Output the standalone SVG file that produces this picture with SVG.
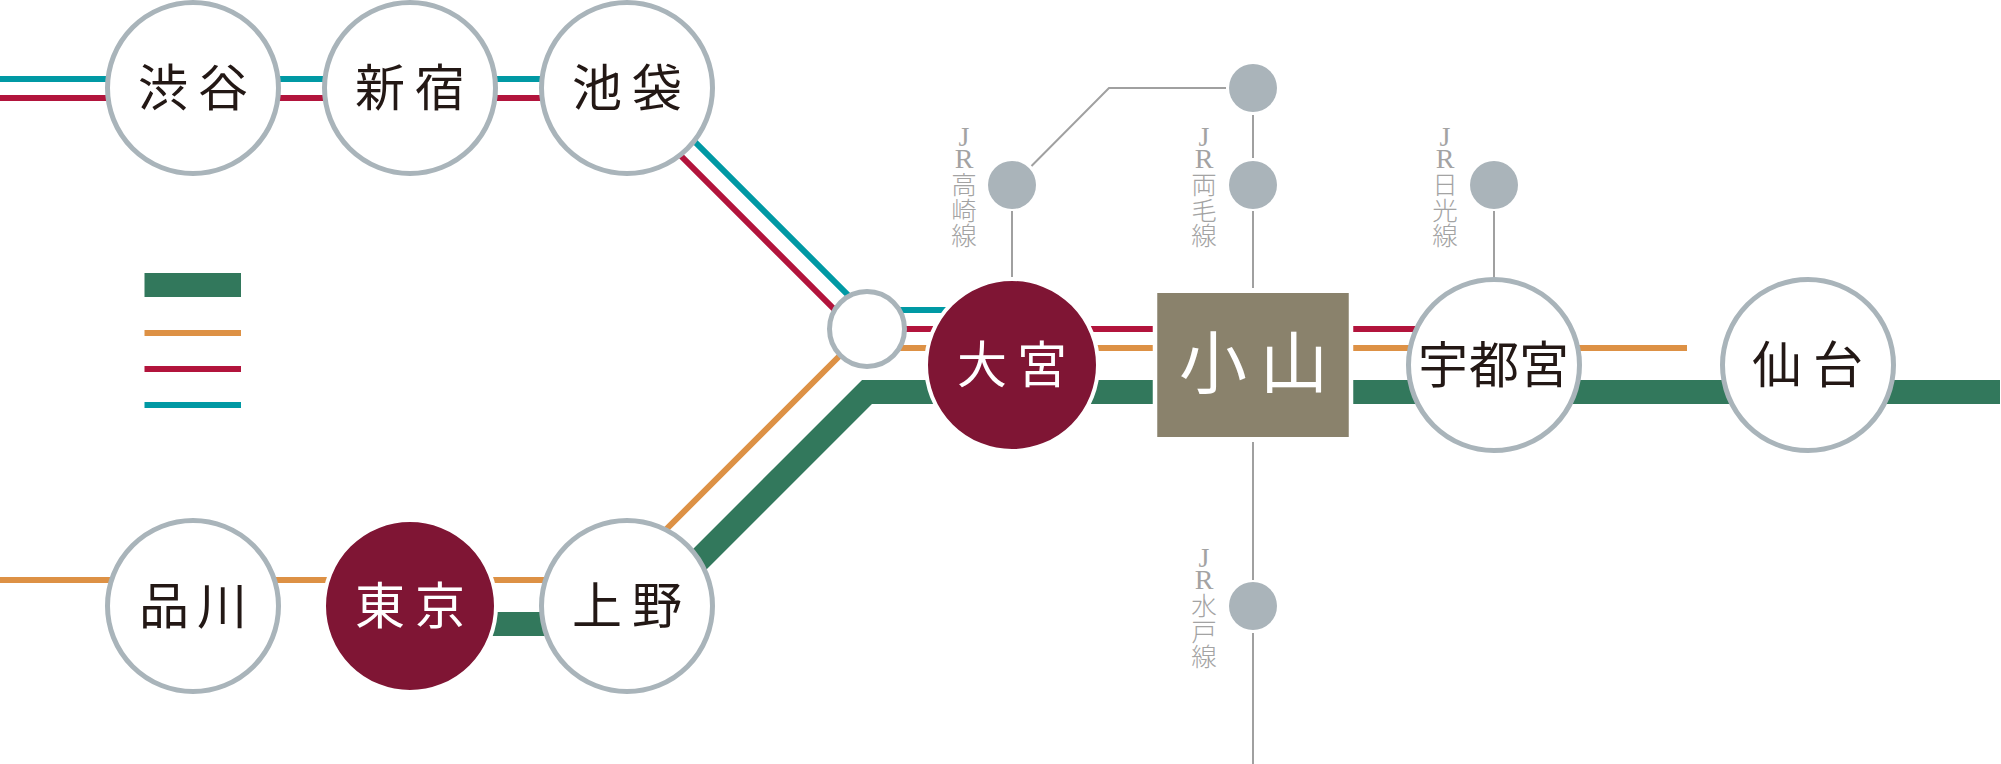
<svg xmlns="http://www.w3.org/2000/svg" width="2001" height="764" viewBox="0 0 2001 764">
<style>
text{font-family:"Liberation Serif","Noto Sans CJK JP",serif;text-anchor:middle}
.name{font-family:"Noto Sans CJK JP","Noto Sans CJK SC",sans-serif;font-size:50px;fill:#231815}
.w{fill:#fff}
.big{font-size:68px}
.lbl{font-family:"Noto Sans CJK JP","Noto Sans CJK SC",sans-serif;font-size:25.500px;font-weight:300;fill:#a3a3a3;writing-mode:vertical-rl;text-orientation:upright;text-anchor:start}
.jr{font-family:"Liberation Serif",serif;font-size:28px;letter-spacing:-9px}
.rr{font-family:"Liberation Serif",serif;font-size:28px;letter-spacing:-2px}
.ring{fill:#fff;stroke:#a9b4ba;stroke-width:5}
.hub{fill:#7f1534;stroke:#fff;stroke-width:4}
.dot{fill:#aab4ba}
.ln{fill:none;stroke-linejoin:miter}
.teal{stroke:#0099a4;stroke-width:6}
.red{stroke:#b2143c;stroke-width:6}
.org{stroke:#dd9145;stroke-width:6}
.grn{stroke:#32785c;stroke-width:24}
.gry{stroke:#a0a0a0;stroke-width:2}
</style>
<g id="legend">
<rect x="144.500" y="273" width="96.500" height="24" fill="#32785c"/>
<rect x="144.500" y="330" width="96.500" height="6" fill="#dd9145"/>
<rect x="144.500" y="366" width="96.500" height="6" fill="#b2143c"/>
<rect x="144.500" y="402" width="96.500" height="6" fill="#0099a4"/>
</g>
<g id="connectors">
<path class="ln grn" d="M410 624H635L867 392H2000"/>
<path class="ln teal" d="M0 79H632L863 310H1012"/>
<path class="ln red" d="M0 98H623L854 329H1494"/>
<path class="ln org" d="M0 580H615.500L847.500 348H1687"/>
<path class="ln gry" d="M1012 211V277M1031.500 166L1109 88H1226M1253 115V158M1253 211V288M1253 442V580M1253 633V764M1494 211V277"/>
</g>
<g id="st-shibuya"><circle class="ring" cx="193" cy="88" r="85.500"/><text class="name" x="163 223" y="106">渋谷</text></g>
<g id="st-shinjuku"><circle class="ring" cx="410" cy="88" r="85.500"/><text class="name" x="380 440" y="106">新宿</text></g>
<g id="st-ikebukuro"><circle class="ring" cx="627" cy="88" r="85.500"/><text class="name" x="597 657" y="106">池袋</text></g>
<g id="st-junction"><circle class="ring" cx="867" cy="329" r="37.500"/></g>
<g id="st-omiya"><circle class="hub" cx="1012" cy="365" r="86"/><text class="name w" x="982 1042" y="383">大宮</text></g>
<g id="st-koyama"><rect x="1155" y="290.750" width="196" height="148.500" fill="#8a826c" stroke="#fff" stroke-width="4.500"/><text class="name w big" x="1213 1294" y="388">小山</text></g>
<g id="st-utsunomiya"><circle class="ring" cx="1494" cy="365" r="85.500"/><text class="name" x="1443 1494 1544" y="383">宇都宮</text></g>
<g id="st-sendai"><circle class="ring" cx="1808" cy="365" r="85.500"/><text class="name" x="1777 1838" y="383">仙台</text></g>
<g id="st-shinagawa"><circle class="ring" cx="193" cy="606" r="85.500"/><text class="name" x="164 222" y="624">品川</text></g>
<g id="st-tokyo"><circle class="hub" cx="410" cy="606" r="86"/><text class="name w" x="380 440" y="624">東京</text></g>
<g id="st-ueno"><circle class="ring" cx="627" cy="606" r="85.500"/><text class="name" x="597 657" y="624">上野</text></g>
<g id="ln-takasaki"><circle class="dot" cx="1012" cy="185" r="24"/><text class="lbl" x="964" y="121"><tspan class="jr">J</tspan><tspan class="rr">R</tspan>高崎線</text></g>
<g id="ln-ryomo"><circle class="dot" cx="1253" cy="185" r="24"/><circle class="dot" cx="1253" cy="88" r="24"/><text class="lbl" x="1204" y="121"><tspan class="jr">J</tspan><tspan class="rr">R</tspan>両毛線</text></g>
<g id="ln-nikko"><circle class="dot" cx="1494" cy="185" r="24"/><text class="lbl" x="1445" y="121"><tspan class="jr">J</tspan><tspan class="rr">R</tspan>日光線</text></g>
<g id="ln-mito"><circle class="dot" cx="1253" cy="606" r="24"/><text class="lbl" x="1204" y="542"><tspan class="jr">J</tspan><tspan class="rr">R</tspan>水戸線</text></g>
</svg>
